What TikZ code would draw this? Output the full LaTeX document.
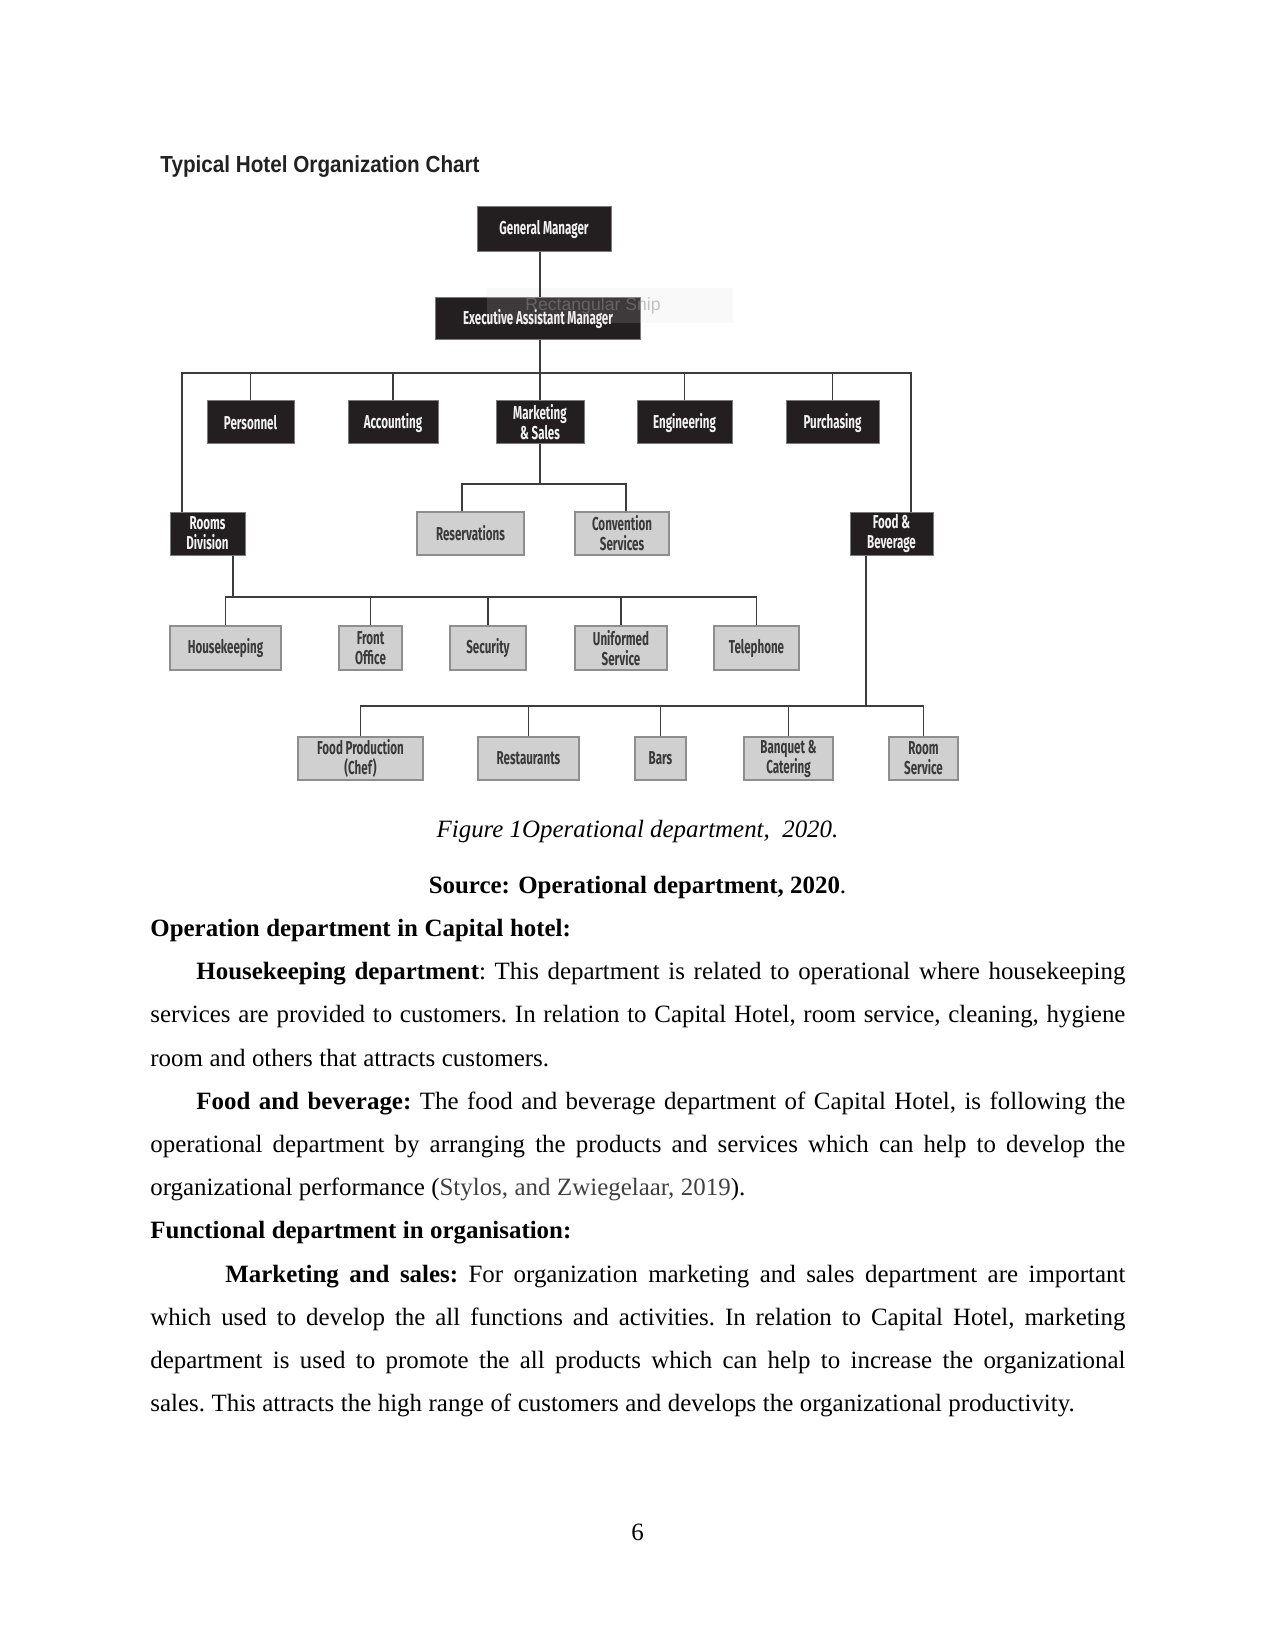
\documentclass[tikz,border=0pt]{standalone}
\usepackage{fontspec}
\setmainfont{Liberation Serif}
\newfontfamily\chartfont{Fira Sans}[FakeStretch=0.62]
\newfontfamily\titlefont{Liberation Sans}[FakeStretch=0.89]
\newfontfamily\snipfont{Liberation Sans}
\usetikzlibrary{positioning}
\definecolor{boxdark}{HTML}{231F20}
\definecolor{boxedge}{HTML}{7A7A7A}
\definecolor{boxtext}{HTML}{F2F2F2}
\definecolor{unitfill}{HTML}{D0D0D0}
\definecolor{unitedge}{HTML}{8E8E8E}
\definecolor{unittext}{HTML}{3A3A3A}
\definecolor{linegray}{HTML}{3C3C3C}
\definecolor{titleink}{HTML}{222222}
\definecolor{cite}{HTML}{404040}
\newlength\pxl
\setlength\pxl{0.4818pt}
\newcommand\jline[1]{\hbox to 6.5in{#1}\par}
\newcommand\rline[1]{\hbox{#1}\par}
\newcommand\bodyspacing{\frenchspacing\spaceskip=3.15pt plus 2pt minus 0.5pt\relax}

\begin{document}
\begin{tikzpicture}[
  x=1\pxl, y=-1\pxl,
  dept/.style={
    draw=boxedge,
    line width=1\pxl,
    fill=boxdark,
    text=boxtext,
    font=\chartfont\bfseries\fontsize{9}{9.6}\selectfont,
    align=center,
    inner sep=0pt,
    minimum height=43\pxl
  },
  unit/.style={
    dept,
    draw=unitedge,
    line width=2.5\pxl,
    fill=unitfill,
    text=unittext
  },
  link/.style={draw=linegray, line width=1.6\pxl},
  snip/.style={fill=black!15, fill opacity=0.15, text=black!45, text opacity=0.5,
    font=\snipfont\fontsize{8.5}{10}\selectfont, inner sep=0pt},
  para/.style={text width=6.5in, inner sep=0pt, font=\fontsize{12}{20.8}\selectfont}
]
  \fill[white] (0,0) rectangle (1275,1651);
  \useasboundingbox (0,0) rectangle (1275,1651);

  % Chart title
  \node[anchor=base west, inner sep=0pt, text=titleink,
    font=\titlefont\bfseries\fontsize{11.2}{13}\selectfont] (title) at (160,173)
    {Typical Hotel Organization Chart};

  % Top management
  \node[dept, minimum width=134\pxl, minimum height=45\pxl] (gm) at (544,229.5) {General Manager};
  \node[dept, minimum width=205\pxl, minimum height=42\pxl] (eam) at (538,319)
    {Executive Assistant Manager};
  \node[snip, minimum width=246\pxl, minimum height=35\pxl] (snipbox) at (610,305.5)
    {\hspace*{-34\pxl}Rectangular Snip};

  % Departments under the EAM
  \node[dept, minimum width=87\pxl] (pers) at (250.5,422.5) {Personnel};
  \node[dept, minimum width=90\pxl] (acct) at (393,422.5) {Accounting};
  \node[dept, minimum width=88\pxl] (mks) at (540,422.5) {Marketing\\\& Sales};
  \node[dept, minimum width=95\pxl] (eng) at (684.5,422.5) {Engineering};
  \node[dept, minimum width=93\pxl] (purch) at (832.5,422.5) {Purchasing};

  % Third row
  \node[dept, minimum width=75\pxl] (rooms) at (207.5,533.5) {Rooms\\Division};
  \node[unit, minimum width=107\pxl] (resv) at (470.5,533.5) {Reservations};
  \node[unit, minimum width=94\pxl] (conv) at (622,533.5) {Convention\\Services};
  \node[dept, minimum width=83\pxl] (fnb) at (891.5,533.5) {Food \&\\Beverage};

  % Rooms division units
  \node[unit, minimum width=111\pxl, minimum height=44\pxl] (hk) at (225.5,648) {Housekeeping};
  \node[unit, minimum width=63\pxl, minimum height=44\pxl] (fo) at (370.5,648) {Front\\Office};
  \node[unit, minimum width=76\pxl, minimum height=44\pxl] (sec) at (488,648) {Security};
  \node[unit, minimum width=92\pxl, minimum height=44\pxl] (unif) at (621,648) {Uniformed\\Service};
  \node[unit, minimum width=85\pxl, minimum height=44\pxl] (tel) at (756.5,648) {Telephone};

  % Food & beverage units
  \node[unit, minimum width=125\pxl] (fprod) at (360.5,758.5) {Food Production\\(Chef)};
  \node[unit, minimum width=101\pxl] (rest) at (528.5,758.5) {Restaurants};
  \node[unit, minimum width=51\pxl] (bars) at (660.5,758.5) {Bars};
  \node[unit, minimum width=89\pxl] (banq) at (788.5,758.5) {Banquet \&\\Catering};
  \node[unit, minimum width=69\pxl] (rsvc) at (923.5,758.5) {Room\\Service};

  % Main spine and bus
  \coordinate (busL) at (182,373);
  \coordinate (busR) at (911,373);
  \draw[link] (gm.south -| mks) -- (eam.north -| mks);
  \draw[link] (eam.south -| mks) -- (mks);
  \draw[link] (rooms.north -| busL) -- (busL) -- (busR) -- (busR |- fnb.north);
  \foreach \d in {pers,acct,eng,purch}
    \draw[link] (\d.north) -- (\d.north |- busL);

  % Marketing branch
  \coordinate (mkbus) at (540,484);
  \draw[link] (mks) -- (mkbus);
  \draw[link] ([xshift=-8.5\pxl]resv.north) |- (mkbus) -| ([xshift=4\pxl]conv.north);

  % Rooms division branch
  \coordinate (rdbus) at (233,597);
  \draw[link] (rooms.south -| rdbus) -- (rdbus);
  \draw[link] (hk.north) |- (tel.north |- rdbus) -- (tel.north);
  \foreach \u in {fo,sec,unif}
    \draw[link] (\u.north) -- (\u.north |- rdbus);

  % Food & beverage branch
  \coordinate (fbbus) at (866,706);
  \draw[link] (fnb.south -| fbbus) -- (fbbus);
  \draw[link] (fprod.north) |- (rsvc.north |- fbbus) -- (rsvc.north);
  \foreach \u in {rest,bars,banq}
    \draw[link] (\u.north) -- (\u.north |- fbbus);

  % Caption lines
  \node[anchor=base, inner sep=0pt, font=\fontsize{12}{14}\selectfont\itshape] (caption) at (637.5,837)
    {Figure 1Operational department,\ \ 2020.};
  \node[anchor=base, inner sep=0pt, font=\fontsize{12}{14}\selectfont] (source) at (637.5,893)
    {\textbf{Source: Operational department, 2020}.};

  % Body text
  \node[para, anchor=north west] (body) at (150,906) {\bodyspacing
    \rline{\strut\textbf{Operation department in Capital hotel:}}
    \jline{\hspace*{46\pxl}\textbf{Housekeeping department}: This department is related to operational where housekeeping}
    \jline{services are provided to customers. In relation to Capital Hotel, room service, cleaning, hygiene}
    \rline{room and others that attracts customers.}
    \jline{\hspace*{46\pxl}\textbf{Food and beverage:} The food and beverage department of Capital Hotel, is following the}
    \jline{operational department by arranging the products and services which can help to develop the}
    \rline{organizational performance ({\color{cite}Stylos, and Zwiegelaar, 2019}).}
    \rline{\textbf{Functional department in organisation:}}
    \jline{\hspace*{75\pxl}\textbf{Marketing and sales:} For organization marketing and sales department are important}
    \jline{which used to develop the all functions and activities. In relation to Capital Hotel, marketing}
    \jline{department is used to promote the all products which can help to increase the organizational}
    \rline{sales. This attracts the high range of customers and develops the organizational productivity.}
  };

  % Page number
  \node[anchor=base, inner sep=0pt, font=\fontsize{12}{14}\selectfont] (pagenum) at (637.5,1540) {6};
\end{tikzpicture}
\end{document}
